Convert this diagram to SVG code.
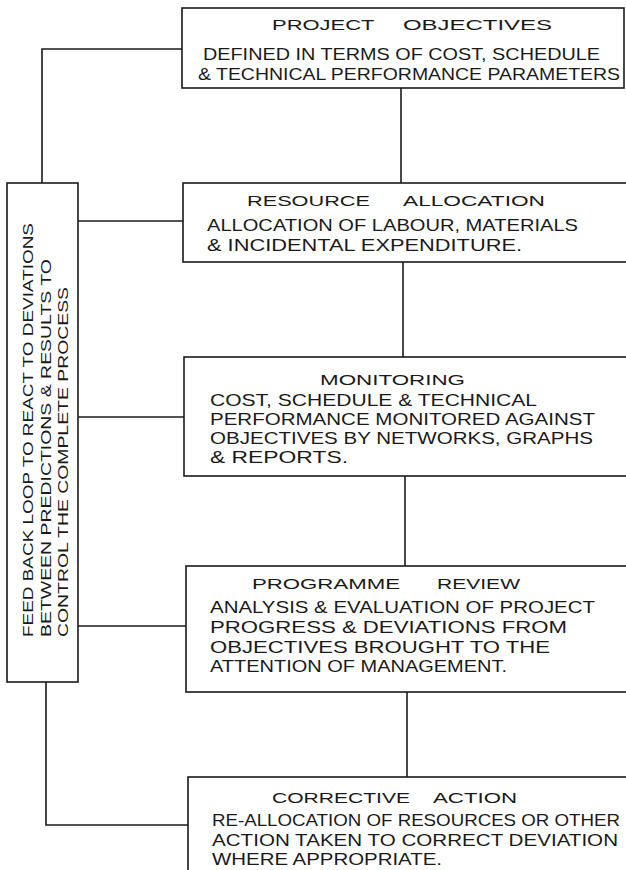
<svg xmlns="http://www.w3.org/2000/svg" width="626" height="870" viewBox="0 0 626 870">
<style>
.box{fill:#fff;stroke:#1a1a1a;stroke-width:1.6}
.ln{fill:none;stroke:#1a1a1a;stroke-width:1.6}
.t{font-family:"Liberation Sans",Arial,sans-serif;font-size:15.5px;fill:#1a1a1a}
.b{font-family:"Liberation Sans",Arial,sans-serif;font-size:16.5px;fill:#1a1a1a}
.f{font-family:"Liberation Sans",Arial,sans-serif;font-size:15.5px;fill:#1a1a1a}
</style>
<rect width="626" height="870" fill="#fff"/>
<g id="connectors">
<path class="ln" d="M401,88 V183"/>
<path class="ln" d="M403,262 V357"/>
<path class="ln" d="M405,476 V566"/>
<path class="ln" d="M407,692 V777"/>
<path class="ln" d="M182,49 H42 V183"/>
<path class="ln" d="M78,221 H183"/>
<path class="ln" d="M78,417 H184"/>
<path class="ln" d="M78,626 H186"/>
<path class="ln" d="M46,682 V825 H188"/>
</g>
<g id="project-objectives">
<rect class="box" x="182" y="8" width="442" height="80"/>
<text class="t" y="30"><tspan x="272" textLength="102" lengthAdjust="spacingAndGlyphs">PROJECT</tspan> <tspan x="403" textLength="149" lengthAdjust="spacingAndGlyphs">OBJECTIVES</tspan></text>
<text class="b" x="203" y="60" textLength="397" lengthAdjust="spacingAndGlyphs">DEFINED IN TERMS OF COST, SCHEDULE</text>
<text class="b" x="198" y="80" textLength="422" lengthAdjust="spacingAndGlyphs">&amp; TECHNICAL PERFORMANCE PARAMETERS</text>
</g>
<g id="resource-allocation">
<rect class="box" x="183" y="183" width="450" height="79"/>
<text class="t" y="206"><tspan x="247" textLength="123" lengthAdjust="spacingAndGlyphs">RESOURCE</tspan> <tspan x="403" textLength="142" lengthAdjust="spacingAndGlyphs">ALLOCATION</tspan></text>
<text class="b" x="207" y="231" textLength="371" lengthAdjust="spacingAndGlyphs">ALLOCATION OF LABOUR, MATERIALS</text>
<text class="b" x="207" y="251" textLength="315" lengthAdjust="spacingAndGlyphs">&amp; INCIDENTAL EXPENDITURE.</text>
</g>
<g id="monitoring">
<rect class="box" x="184" y="357" width="450" height="119"/>
<text class="t" x="320" y="385" textLength="145" lengthAdjust="spacingAndGlyphs">MONITORING</text>
<text class="b" x="210" y="406" textLength="327" lengthAdjust="spacingAndGlyphs">COST, SCHEDULE &amp; TECHNICAL</text>
<text class="b" x="210" y="425" textLength="385" lengthAdjust="spacingAndGlyphs">PERFORMANCE MONITORED AGAINST</text>
<text class="b" x="210" y="444" textLength="383" lengthAdjust="spacingAndGlyphs">OBJECTIVES BY NETWORKS, GRAPHS</text>
<text class="b" x="210" y="463" textLength="138" lengthAdjust="spacingAndGlyphs">&amp; REPORTS.</text>
</g>
<g id="programme-review">
<rect class="box" x="186" y="566" width="450" height="126"/>
<text class="t" y="589"><tspan x="252" textLength="148" lengthAdjust="spacingAndGlyphs">PROGRAMME</tspan> <tspan x="437" textLength="83" lengthAdjust="spacingAndGlyphs">REVIEW</tspan></text>
<text class="b" x="210" y="613" textLength="385" lengthAdjust="spacingAndGlyphs">ANALYSIS &amp; EVALUATION OF PROJECT</text>
<text class="b" x="210" y="633" textLength="357" lengthAdjust="spacingAndGlyphs">PROGRESS &amp; DEVIATIONS FROM</text>
<text class="b" x="210" y="653" textLength="340" lengthAdjust="spacingAndGlyphs">OBJECTIVES BROUGHT TO THE</text>
<text class="b" x="210" y="672" textLength="297" lengthAdjust="spacingAndGlyphs">ATTENTION OF MANAGEMENT.</text>
</g>
<g id="corrective-action">
<rect class="box" x="188" y="777" width="450" height="110"/>
<text class="t" y="803"><tspan x="272" textLength="138" lengthAdjust="spacingAndGlyphs">CORRECTIVE</tspan> <tspan x="433" textLength="84" lengthAdjust="spacingAndGlyphs">ACTION</tspan></text>
<text class="b" x="212" y="826" textLength="408" lengthAdjust="spacingAndGlyphs">RE-ALLOCATION OF RESOURCES OR OTHER</text>
<text class="b" x="212" y="846" textLength="406" lengthAdjust="spacingAndGlyphs">ACTION TAKEN TO CORRECT DEVIATION</text>
<text class="b" x="212" y="865" textLength="230" lengthAdjust="spacingAndGlyphs">WHERE APPROPRIATE.</text>
</g>
<g id="feedback-loop">
<rect class="box" x="7" y="183" width="71" height="499"/>
<text class="f" transform="translate(33,637) rotate(-90)" textLength="414" lengthAdjust="spacingAndGlyphs">FEED BACK LOOP TO REACT TO DEVIATIONS</text>
<text class="f" transform="translate(51,637) rotate(-90)" textLength="378" lengthAdjust="spacingAndGlyphs">BETWEEN PREDICTIONS &amp; RESULTS TO</text>
<text class="f" transform="translate(68,637) rotate(-90)" textLength="350" lengthAdjust="spacingAndGlyphs">CONTROL THE COMPLETE PROCESS</text>
</g>
</svg>
